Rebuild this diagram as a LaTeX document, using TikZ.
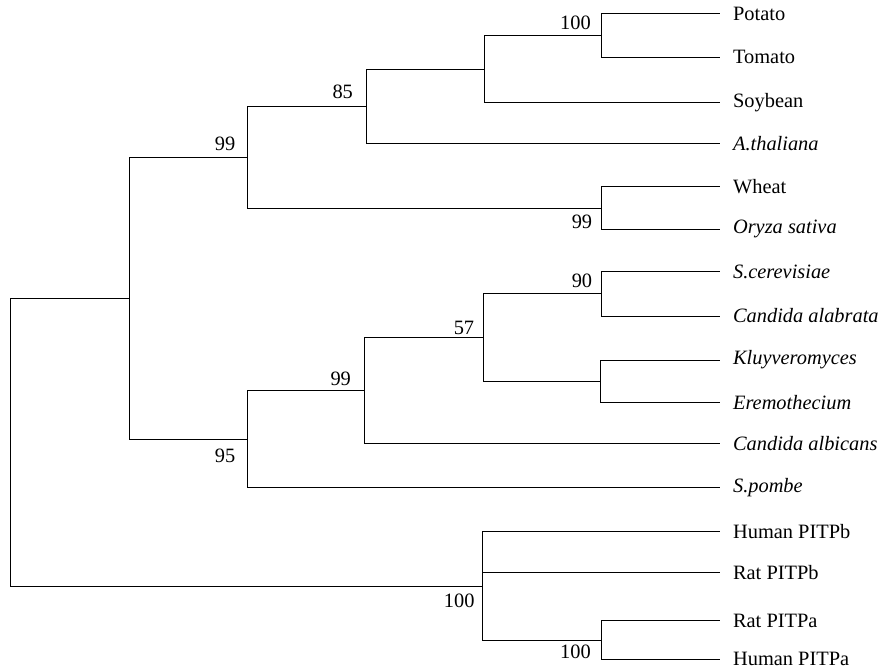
\documentclass[tikz,border=0pt]{standalone}
\usepackage{fontspec}
\setmainfont{Liberation Serif}
\usetikzlibrary{positioning}

\begin{document}
\begin{tikzpicture}[x=0.025cm, y=-0.025cm, line width=0.6pt,
    feuille/.style={anchor=west, inner xsep=9pt, inner ysep=0pt, font=\fontsize{14.5}{16}\selectfont},
    espece/.style={feuille, font=\fontsize{14.5}{16}\selectfont\itshape},
    boot/.style={inner sep=0pt, font=\fontsize{14.5}{16}\selectfont}]

    \useasboundingbox (0,0) rectangle (881,670);

    % Feuilles (extrémités des branches à x = 720)
    \node[feuille] (potato)  at (720,13.7)  {Potato};
    \node[feuille] (tomato)  at (720,57.3)  {Tomato};
    \node[feuille] (soybean) at (720,102.3) {Soybean};
    \node[espece]  (athal)   at (720,143.3) {A.thaliana};
    \node[feuille] (wheat)   at (720,186.7) {Wheat};
    \node[espece]  (oryza)   at (720,229.3) {Oryza sativa};
    \node[espece]  (scer)    at (720,271.7) {S.cerevisiae};
    \node[espece]  (calab)   at (720,316)   {Candida alabrata};
    \node[espece]  (kluyv)   at (720,360)   {Kluyveromyces};
    \node[espece]  (eremo)   at (720,402.7) {Eremothecium};
    \node[espece]  (calbi)   at (720,443.7) {Candida albicans};
    \node[espece]  (spombe)  at (720,487.3) {S.pombe};
    \node[feuille] (humanb)  at (720,531.7) {Human PITPb};
    \node[feuille] (ratb)    at (720,572.7) {Rat PITPb};
    \node[feuille] (rata)    at (720,620.7) {Rat PITPa};
    \node[feuille] (humana)  at (720,659)   {Human PITPa};

    % Noeuds internes
    \coordinate (n1)   at (601,35.5);   % Potato + Tomato
    \coordinate (n2)   at (484,69);     % n1 + Soybean
    \coordinate (n3)   at (366,106.5);  % n2 + A.thaliana
    \coordinate (n5)   at (601,208);    % Wheat + Oryza
    \coordinate (n4)   at (247,157);    % plantes
    \coordinate (n10)  at (601,293.8);  % S.cerevisiae + C. alabrata
    \coordinate (n11)  at (600,381.3);  % Kluyveromyces + Eremothecium
    \coordinate (n9)   at (483,337.6);
    \coordinate (n8)   at (364,390.7);
    \coordinate (n7)   at (247,439);    % levures
    \coordinate (n6)   at (129,298);
    \coordinate (n13)  at (601,640);    % PITPa
    \coordinate (n12)  at (482,586);    % PITP
    \coordinate (racine) at (10,442);

    % Branches
    \draw (n1) |- (potato);
    \draw (n1) |- (tomato);
    \draw (n2) |- (n1);
    \draw (n2) |- (soybean);
    \draw (n3) |- (n2);
    \draw (n3) |- (athal);
    \draw (n5) |- (wheat);
    \draw (n5) |- (oryza);
    \draw (n4) |- (n3);
    \draw (n4) |- (n5);

    \draw (n10) |- (scer);
    \draw (n10) |- (calab);
    \draw (n11) |- (kluyv);
    \draw (n11) |- (eremo);
    \draw (n9) |- (n10);
    \draw (n9) |- (n11);
    \draw (n8) |- (n9);
    \draw (n8) |- (calbi);
    \draw (n7) |- (n8);
    \draw (n7) |- (spombe);

    \draw (n6) |- (n4);
    \draw (n6) |- (n7);

    \draw (n13) |- (rata);
    \draw (n13) |- (humana);
    \draw (n12) |- (humanb);
    \draw (n12) |- (ratb);
    \draw (n12) |- (n13);

    \draw (racine) |- (n6);
    \draw (racine) |- (n12);

    % Valeurs de bootstrap
    \node[boot, above left=4pt and 7pt of n1]  (b1)  {100};
    \node[boot, above left=5pt and 9pt of n3]  (b3)  {85};
    \node[boot, above left=4pt and 8pt of n4]  (b4)  {99};
    \node[boot, below left=5pt and 6pt of n5]  (b5)  {99};
    \node[boot, above left=4pt and 6pt of n10] (b10) {90};
    \node[boot, above left=2pt and 6pt of n9]  (b9)  {57};
    \node[boot, above left=3pt and 9pt of n8]  (b8)  {99};
    \node[boot, below left=7pt and 8pt of n7]  (b7)  {95};
    \node[boot, below left=5pt and 5pt of n12] (b12) {100};
    \node[boot, below left=3pt and 7pt of n13] (b13) {100};

\end{tikzpicture}
\end{document}
